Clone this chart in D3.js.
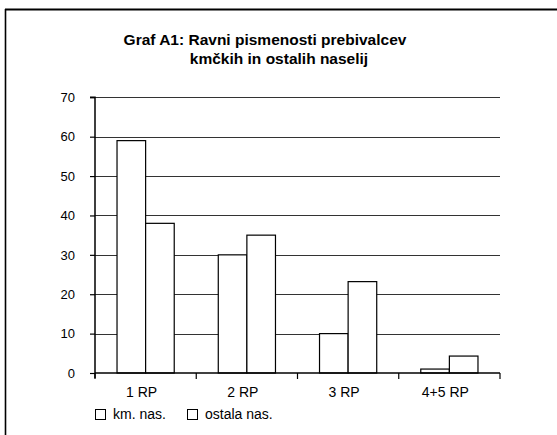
<!DOCTYPE html>
<html>
<head>
<meta charset="utf-8">
<script src="https://cdn.jsdelivr.net/npm/d3@7"></script>
<style>
  html, body { margin: 0; padding: 0; background: #fff; }
  svg { display: block; font-family: "Liberation Sans", Arial, sans-serif; }
</style>
</head>
<body>
<svg id="chart" width="557" height="435"></svg>
<script>
// ---- data ----
const categories = ["1 RP", "2 RP", "3 RP", "4+5 RP"];
const seriesNames = ["km. nas.", "ostala nas."];
const kmNas = [59, 30, 10, 1];
const ostalaNas = [38, 35, 23.2, 4.3];
const yTicks = [0, 10, 20, 30, 40, 50, 60, 70];
const titleLines = ["Graf A1: Ravni pismenosti prebivalcev", "kmčkih in ostalih naselij"];

const svg = d3.select("#chart");

// frame (scan border: top and left only)
svg.append("line").attr("x1", 5).attr("x2", 557).attr("y1", 9.5).attr("y2", 9.5)
  .attr("stroke", "#000").attr("stroke-width", 2);
svg.append("line").attr("x1", 5.5).attr("x2", 5.5).attr("y1", 9).attr("y2", 435)
  .attr("stroke", "#000").attr("stroke-width", 1.6);

// title
const titleX = [265, 279];
const titleY = [45, 64];
svg.selectAll("text.title").data(titleLines).join("text")
  .attr("class", "title")
  .attr("x", (d, i) => titleX[i])
  .attr("y", (d, i) => titleY[i])
  .attr("text-anchor", "middle")
  .attr("font-weight", "bold")
  .attr("font-size", "15.5px")
  .text(d => d);

// scales
const x0 = d3.scaleBand().domain(categories).range([95, 500]).paddingInner(0).paddingOuter(0);
const x1 = d3.scaleBand().domain(seriesNames).range([0, x0.bandwidth()]).paddingInner(0).paddingOuter(0.77);
const y = d3.scaleLinear().domain([0, 70]).range([373, 97.3]);

// gridlines
svg.append("g").selectAll("line").data(yTicks.filter(t => t > 0)).join("line")
  .attr("x1", 95).attr("x2", 500)
  .attr("y1", d => Math.round(y(d)) + 0.5).attr("y2", d => Math.round(y(d)) + 0.5)
  .attr("stroke", "#333").attr("stroke-width", 1);

// bars
const rows = categories.map((c, i) => ({ cat: c, vals: [kmNas[i], ostalaNas[i]] }));
const g = svg.append("g");
rows.forEach(r => {
  r.vals.forEach((v, j) => {
    g.append("rect")
      .attr("x", x0(r.cat) + x1(seriesNames[j]))
      .attr("y", y(v))
      .attr("width", x1.bandwidth())
      .attr("height", y(0) - y(v))
      .attr("fill", "#fff")
      .attr("stroke", "#000")
      .attr("stroke-width", 1.2);
  });
});

// y axis
const yAxis = d3.axisLeft(y).tickValues(yTicks).tickSize(5).tickPadding(15).tickFormat(d3.format("d"));
const ya = svg.append("g").attr("transform", "translate(95,0)").call(yAxis);
ya.select(".domain").attr("stroke", "#000").attr("stroke-width", 1.5).attr("d", "M-5,97.3H0V378");
ya.selectAll(".tick line").attr("stroke", "#000").attr("stroke-width", 1.2);
ya.selectAll(".tick text").attr("font-size", "13px").attr("fill", "#000")
  .attr("font-family", "Liberation Sans, Arial, sans-serif");

// x axis
const xAxis = d3.axisBottom(x0).tickSize(0).tickPadding(14);
const xa = svg.append("g").attr("transform", "translate(0,373)").call(xAxis);
xa.select(".domain").attr("stroke", "#000").attr("stroke-width", 1.5).attr("d", "M95,0H500");
xa.selectAll(".tick text").attr("font-size", "14px").attr("fill", "#000").attr("dx", -4)
  .attr("font-family", "Liberation Sans, Arial, sans-serif");
// boundary ticks between categories
const bounds = categories.map(c => x0(c)).concat([x0.range()[1]]);
xa.append("g").selectAll("line").data(bounds).join("line")
  .attr("x1", d => d).attr("x2", d => d).attr("y1", 0).attr("y2", 6)
  .attr("stroke", "#000").attr("stroke-width", 1.2);

// legend
const legX = [95, 187];
const leg = svg.append("g");
seriesNames.forEach((s, i) => {
  leg.append("rect").attr("x", legX[i] + 0.5).attr("y", 409.5).attr("width", 10).attr("height", 10)
    .attr("fill", "#fff").attr("stroke", "#000").attr("stroke-width", 1);
  leg.append("text").attr("x", legX[i] + 18).attr("y", 419)
    .attr("font-size", "14px").text(s);
});
</script>
</body>
</html>
